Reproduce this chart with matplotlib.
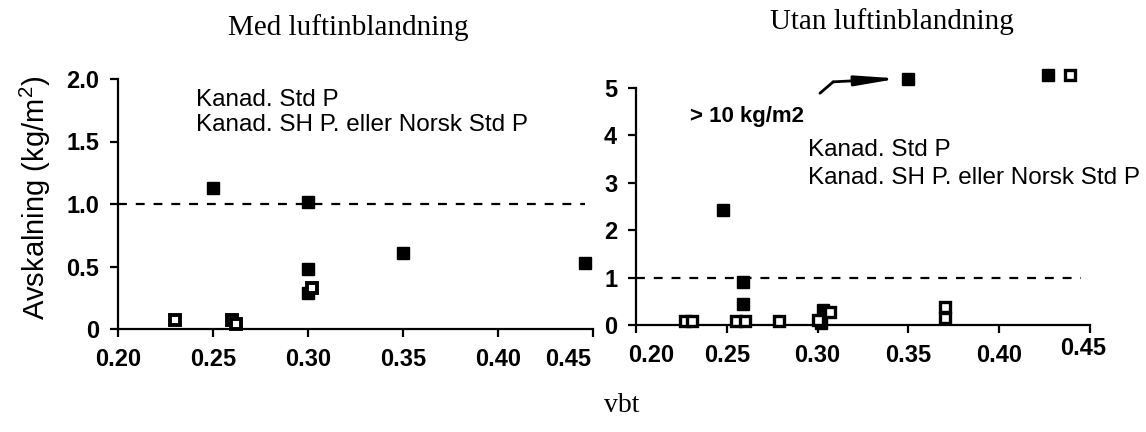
import matplotlib
matplotlib.use("Agg")
import matplotlib.pyplot as plt
from matplotlib import font_manager

# ---- data -------------------------------------------------------------
# Med luftinblandning (with air entrainment)
med_std_x = [0.250, 0.300, 0.300, 0.300, 0.350, 0.446]
med_std_y = [1.13, 1.02, 0.48, 0.29, 0.61, 0.53]
med_sh_x = [0.230, 0.260, 0.262, 0.302]
med_sh_y = [0.07, 0.07, 0.04, 0.33]

# Utan luftinblandning (without air entrainment)
utan_std_x = [0.248, 0.259, 0.259, 0.303, 0.302, 0.350, 0.427]
utan_std_y = [2.43, 0.91, 0.45, 0.31, 0.05, 5.18, 5.27]
utan_sh_x = [0.227, 0.231, 0.255, 0.260, 0.279, 0.300, 0.307, 0.370, 0.370, 0.439]
utan_sh_y = [0.08, 0.08, 0.08, 0.08, 0.09, 0.10, 0.27, 0.39, 0.14, 5.27]

limit_value = 1.0
x_ticks = [0.20, 0.25, 0.30, 0.35, 0.40, 0.45]
x_ticklabels = ["0.20", "0.25", "0.30", "0.35", "0.40", "0.45"]
med_yticks = [0, 0.5, 1.0, 1.5, 2.0]
med_yticklabels = ["0", "0.5", "1.0", "1.5", "2.0"]
utan_yticks = [0, 1, 2, 3, 4, 5]
utan_yticklabels = ["0", "1", "2", "3", "4", "5"]
legend_lines = ["Kanad. Std P", "Kanad. SH P. eller Norsk Std P"]

# ---- fonts ------------------------------------------------------------
names = {f.name for f in font_manager.fontManager.ttflist}
if "Liberation Sans Narrow" in names:
    tick_family, tick_size = "Liberation Sans Narrow", 20
else:
    tick_family, tick_size = "Liberation Sans", 17

plt.rcParams["font.family"] = ["Liberation Sans", "DejaVu Sans"]
plt.rcParams["mathtext.fontset"] = "custom"
plt.rcParams["mathtext.rm"] = "Liberation Sans"
plt.rcParams["mathtext.it"] = "Liberation Sans:italic"

TICK_LEN, TICK_PAD = 5.5, 8

W, H = 1146, 432
fig = plt.figure(figsize=(W / 100, H / 100), dpi=100)
fig.patch.set_facecolor("white")


def px_axes(x0, x1, y_top, y_bot):
    return fig.add_axes([x0 / W, (H - y_bot) / H, (x1 - x0) / W, (y_bot - y_top) / H])


ax1 = px_axes(118, 593, 79, 329)
ax2 = px_axes(636, 1090, 88, 325)


def style_axis(ax, yticks, yticklabels, ylim, shifted):
    ax.set_xlim(0.20, 0.45)
    ax.set_ylim(*ylim)
    for side in ("top", "right"):
        ax.spines[side].set_visible(False)
    for side in ("left", "bottom"):
        ax.spines[side].set_linewidth(1.6)
    ax.set_xticks(x_ticks)
    # labels that sit off their tick are drawn separately below
    ax.set_xticklabels(["" if v in shifted else s for v, s in zip(x_ticks, x_ticklabels)])
    ax.set_yticks(yticks)
    ax.set_yticklabels(yticklabels)
    ax.tick_params(direction="out", length=TICK_LEN, width=1.6, pad=TICK_PAD)
    for lab in ax.get_xticklabels() + ax.get_yticklabels():
        lab.set_fontfamily(tick_family)
        lab.set_fontsize(tick_size)
        lab.set_fontweight("bold")
    for v, (dx, dy) in shifted.items():
        ax.annotate(x_ticklabels[x_ticks.index(v)], xy=(v, 0),
                    xycoords=("data", "axes fraction"),
                    xytext=(dx, -(TICK_LEN + TICK_PAD) + dy), textcoords="offset points",
                    ha="center", va="top", family=tick_family, fontsize=tick_size,
                    fontweight="bold", annotation_clip=False)
    ax.set_facecolor("none")


style_axis(ax1, med_yticks, med_yticklabels, (0, 2.0), {0.45: (-18, 0)})
style_axis(ax2, utan_yticks, utan_yticklabels, (0, 5.0), {0.20: (11, 0), 0.45: (-5, 5)})

# dashed limit lines
ax1.plot([0.20, 0.446], [limit_value, limit_value], ls=(0, (4, 4)), lw=1.6, color="black", zorder=1)
ax2.plot([0.20, 0.445], [limit_value, limit_value], ls=(0, (4, 4)), lw=1.6, color="black", zorder=1)

# markers
ax1.plot(med_std_x, med_std_y, ls="none", marker="s", ms=8.5, mfc="black", mec="black",
         mew=1.0, clip_on=False, zorder=3)
ax1.plot(med_sh_x, med_sh_y, ls="none", marker="s", ms=7.0, mfc="white", mec="black",
         mew=2.8, clip_on=False, zorder=4)
ax2.plot(utan_std_x, utan_std_y, ls="none", marker="s", ms=8.0, mfc="black", mec="black",
         mew=1.0, clip_on=False, zorder=3)
ax2.plot(utan_sh_x, utan_sh_y, ls="none", marker="s", ms=6.5, mfc="white", mec="black",
         mew=2.4, clip_on=False, zorder=4)

# legend-style captions
for ax, x, ys in ((ax1, 0.2409, (1.83, 1.63)), (ax2, 0.2947, (3.69, 3.10))):
    for txt, y in zip(legend_lines, ys):
        ax.text(x, y, txt, fontsize=17.5, ha="left", va="center", color="black")

# off-scale note and arrow
ax2.text(0.2297, 4.39, "> 10 kg/m2", fontsize=16, fontweight="bold", ha="left", va="center")
ax2.plot([0.3013, 0.3086], [4.89, 5.13], color="black", lw=2.0, clip_on=False,
         solid_capstyle="round")
ax2.annotate("", xy=(0.3445, 5.20), xytext=(0.3086, 5.13),
             arrowprops=dict(arrowstyle="-|>,head_length=2.5,head_width=0.3",
                             lw=2.0, color="black", shrinkA=0, shrinkB=0),
             annotation_clip=False)

# axis label and titles
fig.text(35 / W, 1 - 198 / H, "Avskalning (kg/m$^2$)", rotation=90, fontsize=21,
         ha="center", va="center")
fig.text(348 / W, 1 - 28 / H, "Med luftinblandning", family="Liberation Serif",
         fontsize=21, ha="center", va="center")
fig.text(892 / W, 1 - 22 / H, "Utan luftinblandning", family="Liberation Serif",
         fontsize=21, ha="center", va="center")
fig.text(622 / W, 1 - 405 / H, "vbt", family="Liberation Serif", fontsize=20,
         ha="center", va="center")

fig.savefig("out.png", dpi=100, facecolor="white")
